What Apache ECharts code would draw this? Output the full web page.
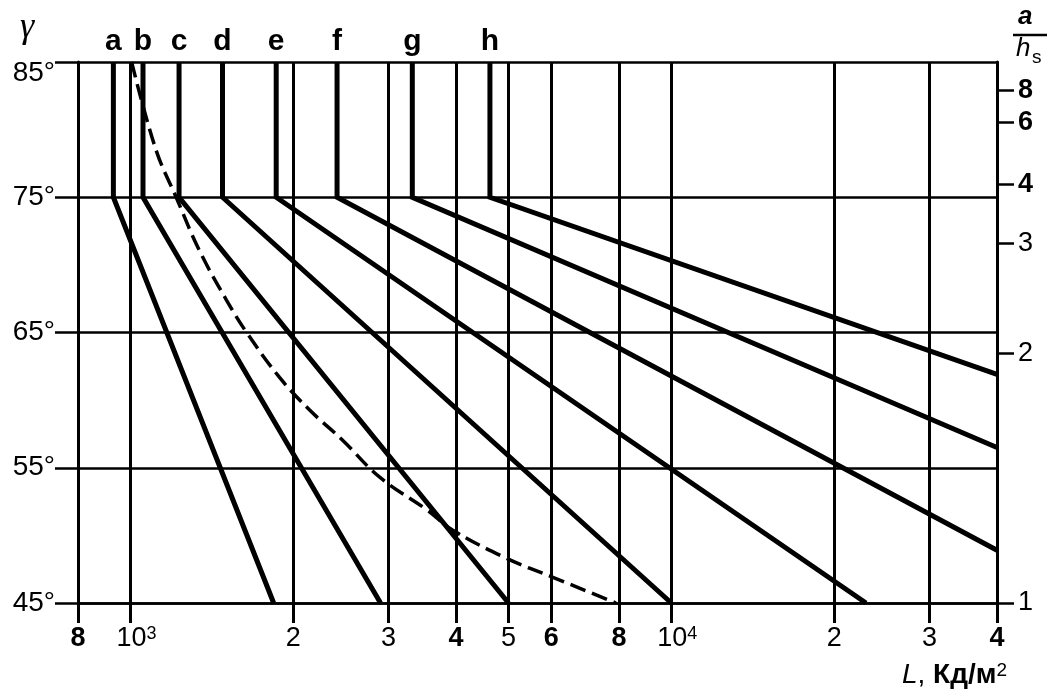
<!DOCTYPE html>
<html>
<head>
<meta charset="utf-8">
<script src="https://cdn.jsdelivr.net/npm/echarts@6/dist/echarts.min.js"></script>
<style>
html, body { margin: 0; padding: 0; background: #fff; }
#chart { width: 1049px; height: 694px; }
</style>
</head>
<body>
<div id="chart"></div>
<script>
// 亮度轴 L (对数) 刻度
var lTicks = [800, 1000, 2000, 3000, 4000, 5000, 6000, 8000, 10000, 20000, 30000, 40000];
var lTickLabels = ['8', '10^3', '2', '3', '4', '5', '6', '8', '10^4', '2', '3', '4'];
var lTickBold = [true, false, false, false, true, false, true, true, false, false, false, true];
// 角度 γ 刻度
var gammaTicks = [45, 55, 65, 75, 85];
// 右轴 a/hs 刻度
var ratioTicks = [1, 2, 3, 4, 6, 8];
var ratioBold = [false, false, false, true, true, true];

// 曲线 a..h : [L, γ]
var curveNames = ['a', 'b', 'c', 'd', 'e', 'f', 'g', 'h'];
var curveA = [[930, 85], [930, 75], [1840, 45]];
var curveB = [[1055, 85], [1055, 75], [2900, 45]];
var curveC = [[1230, 85], [1230, 75], [5000, 45]];
var curveD = [[1480, 85], [1480, 75], [10000, 45]];
var curveE = [[1860, 85], [1860, 75], [22900, 45]];
var curveF = [[2410, 85], [2410, 75], [40000, 48.9]];
var curveG = [[3320, 85], [3320, 75], [40000, 56.5]];
var curveH = [[4620, 85], [4620, 75], [40000, 61.9]];
// 虚线
var dashedCurve = [[1005, 85], [1115, 78.5], [1215, 75], [1340, 71.1], [1505, 67.4], [1640, 65],
    [1885, 61.7], [2140, 59.3], [2465, 57.05], [2890, 54.3], [3530, 51.9], [3940, 50.4],
    [4960, 48.3], [6040, 46.9], [7900, 45]];

var myChart = echarts.init(document.getElementById('chart'));

var FONT = "'Liberation Sans Narrow', 'Liberation Sans', Arial, sans-serif";

// a/hs 对应的角度 (γ = arctan)
var ratioDeg = ratioTicks.map(function (v) {
    return Math.atan(v) * 180 / Math.PI;
});

function curve(name, pts) {
    return {
        name: name,
        type: 'line',
        data: pts.map(function (p, i) {
            if (i === 0) {
                return {
                    value: p,
                    label: {
                        show: true,
                        formatter: name,
                        position: 'top',
                        distance: 5,
                        fontSize: 30,
                        fontWeight: 'bold',
                        fontFamily: 'Liberation Sans, Arial, sans-serif',
                        color: '#000'
                    }
                };
            }
            return p;
        }),
        symbol: 'circle',
        symbolSize: 0,
        itemStyle: { color: '#000' },
        lineStyle: { color: '#000', width: 5, join: 'miter' },
        z: 3
    };
}

var pointSets = [curveA, curveB, curveC, curveD, curveE, curveF, curveG, curveH];
var series = pointSets.map(function (pts, i) {
    return curve(curveNames[i], pts);
});
series.push({
    name: 'dashed',
    type: 'line',
    data: dashedCurve,
    smooth: 0.4,
    symbol: 'none',
    lineStyle: { color: '#000', width: 3.5, type: [16, 7] },
    z: 2
});

var lRich = {
    n: { fontSize: 27, fontFamily: FONT, color: '#000' },
    b: { fontSize: 27, fontFamily: FONT, color: '#000', fontWeight: 'bold' },
    sup: { fontSize: 18, fontFamily: FONT, color: '#000', verticalAlign: 'top', padding: [0, 0, 10, 0] },
    sp: { width: 12 }
};

option = {
    backgroundColor: '#fff',
    animation: false,
    grid: { left: 78, right: 52, top: 62, bottom: 91 },
    xAxis: {
        type: 'log',
        logBase: 10,
        min: 800,
        max: 40000,
        axisLine: { show: true, lineStyle: { color: '#000', width: 2.5 } },
        axisTick: { show: true, customValues: lTicks, length: 20, lineStyle: { color: '#000', width: 3 } },
        axisLabel: {
            customValues: lTicks,
            margin: 22,
            rich: lRich,
            formatter: function (v) {
                var idx = 0, best = Infinity;
                lTicks.forEach(function (t, i) {
                    var d = Math.abs(Math.log(t) - Math.log(v));
                    if (d < best) { best = d; idx = i; }
                });
                var s = lTickLabels[idx];
                if (s.indexOf('^') > 0) {
                    var parts = s.split('^');
                    return '{sp|}{n|' + parts[0] + '}{sup|' + parts[1] + '}';
                }
                return lTickBold[idx] ? '{b|' + s + '}' : '{n|' + s + '}';
            }
        },
        splitLine: { show: true, lineStyle: { color: '#000', width: 3 } },
        minorTick: { show: false },
        minorSplitLine: { show: false }
    },
    yAxis: [{
        type: 'value',
        min: 45,
        max: 85,
        position: 'left',
        axisLine: { show: true, lineStyle: { color: '#000', width: 3 } },
        axisTick: { show: true, customValues: gammaTicks, length: 23, lineStyle: { color: '#000', width: 2.5 } },
        axisLabel: {
            customValues: gammaTicks,
            margin: 23,
            fontSize: 28,
            fontFamily: 'Liberation Sans, Arial, sans-serif',
            color: '#000',
            rich: {
                top: { fontSize: 28, fontFamily: 'Liberation Sans, Arial, sans-serif', color: '#000', padding: [22, 0, 0, 0] }
            },
            formatter: function (v) {
                var r = Math.round(v);
                return r === 85 ? '{top|' + r + '°}' : r + '°';
            }
        },
        splitLine: { show: true, lineStyle: { color: '#000', width: 2.5 } }
    }, {
        type: 'value',
        min: 45,
        max: 85,
        position: 'right',
        axisLine: { show: true, lineStyle: { color: '#000', width: 3 } },
        axisTick: { show: true, customValues: ratioDeg, length: 17, lineStyle: { color: '#000', width: 2.5 } },
        axisLabel: {
            customValues: ratioDeg,
            margin: 21,
            rich: {
                n: { fontSize: 27, fontFamily: FONT, color: '#000' },
                b: { fontSize: 27, fontFamily: FONT, color: '#000', fontWeight: 'bold' }
            },
            formatter: function (v) {
                var idx = 0, best = Infinity;
                ratioDeg.forEach(function (t, i) {
                    var d = Math.abs(t - v);
                    if (d < best) { best = d; idx = i; }
                });
                return (ratioBold[idx] ? '{b|' : '{n|') + ratioTicks[idx] + '}';
            }
        },
        splitLine: { show: false }
    }],
    graphic: [
        { type: 'text', left: 20, top: 10, style: { text: 'γ', fontSize: 36, fontStyle: 'italic', fontFamily: 'Liberation Serif, serif', fill: '#000' } },
        { type: 'text', left: 1018, top: 4, style: { text: 'a', fontSize: 26, fontStyle: 'italic', fontWeight: 'bold', fontFamily: 'Liberation Sans, Arial, sans-serif', fill: '#000' } },
        { type: 'line', shape: { x1: 1013, y1: 35, x2: 1047, y2: 35 }, style: { stroke: '#000', lineWidth: 2.5 } },
        { type: 'text', left: 1016, top: 36, style: { text: 'h', fontSize: 26, fontStyle: 'italic', fontFamily: 'Liberation Sans, Arial, sans-serif', fill: '#000' } },
        { type: 'text', left: 1032, top: 48, style: { text: 's', fontSize: 19, fontFamily: 'Liberation Sans, Arial, sans-serif', fill: '#000' } },
        {
            type: 'text', right: 42, top: 661,
            style: {
                text: '{i|L}, {k|Кд/м}{sup|2}',
                fontSize: 28,
                fontFamily: FONT,
                fill: '#000',
                rich: {
                    i: { fontSize: 28, fontStyle: 'italic', fontFamily: FONT, fill: '#000' },
                    k: { fontSize: 28, fontWeight: 'bold', fontFamily: FONT, fill: '#000' },
                    sup: { fontSize: 19, fontFamily: FONT, fill: '#000', verticalAlign: 'top', padding: [0, 0, 7, 0] }
                }
            }
        }
    ],
    series: series
};

myChart.setOption(option);
</script>
</body>
</html>
